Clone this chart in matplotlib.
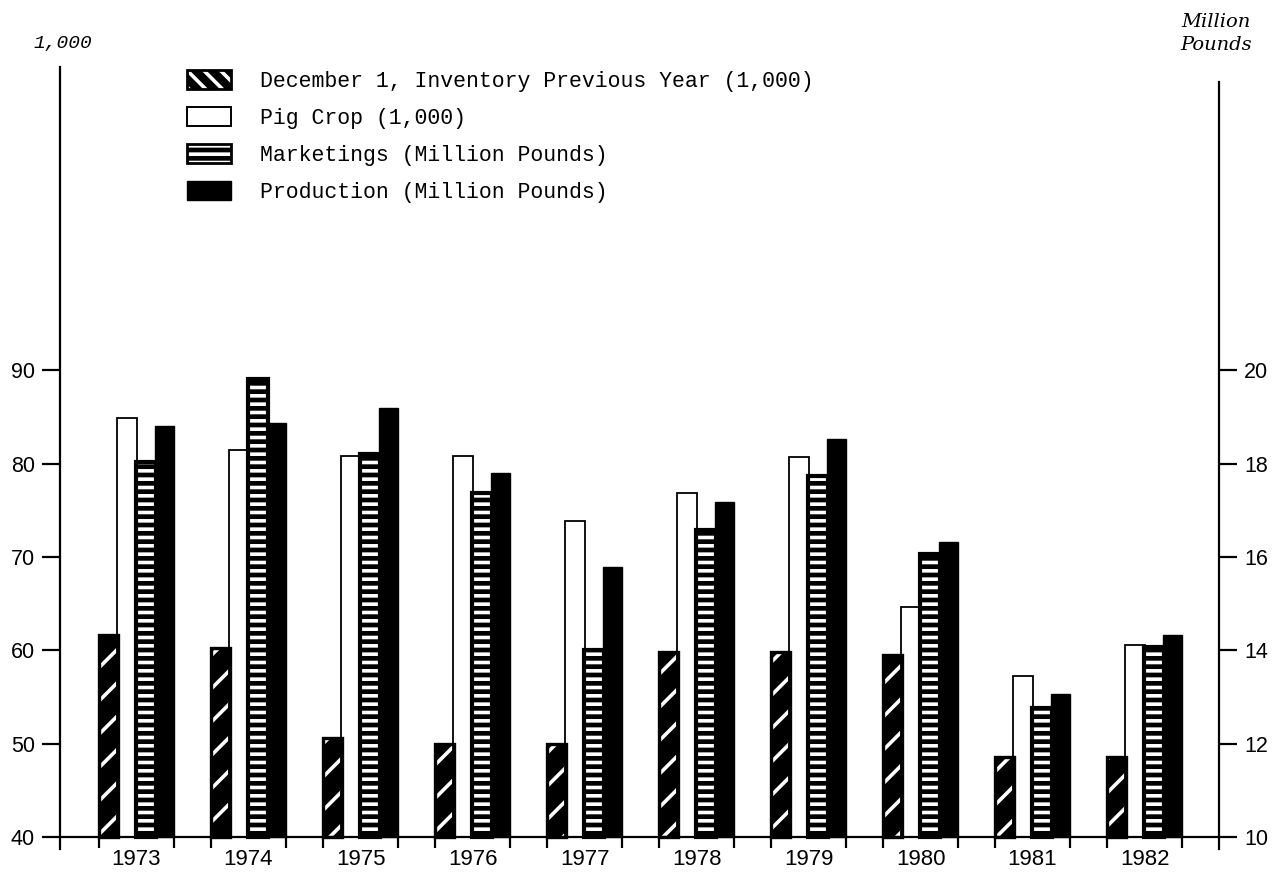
import matplotlib
matplotlib.use("Agg")
import matplotlib.pyplot as plt
from matplotlib.patches import Patch
from matplotlib.legend_handler import HandlerTuple
import numpy as np

# ---- data -------------------------------------------------------------
years = ["1973", "1974", "1975", "1976", "1977",
         "1978", "1979", "1980", "1981", "1982"]
# thousand head (left scale)
inventory = [61.6, 60.2, 50.6, 50.0, 49.9, 59.8, 59.8, 59.5, 48.6, 48.6]
pig_crop = [84.9, 81.5, 80.8, 80.8, 73.8, 76.9, 80.7, 64.6, 57.2, 60.6]
# million pounds (right scale)
marketings = [18.04, 19.82, 18.20, 17.36, 14.00, 16.58, 17.74, 16.06, 12.76, 14.08]
production = [18.80, 18.86, 19.20, 17.80, 15.78, 17.18, 18.52, 16.32, 13.06, 14.32]

left_ticks = [40, 50, 60, 70, 80, 90]
right_ticks = [10, 12, 14, 16, 18, 20]

legend_labels = [
    "December 1, Inventory Previous Year (1,000)",
    "Pig Crop (1,000)",
    "Marketings (Million Pounds)",
    "Production (Million Pounds)",
]

# ---- styling ----------------------------------------------------------
plt.rcParams["hatch.linewidth"] = 2.6
NUM_FONT = ["Liberation Sans", "DejaVu Sans"]
LEG_FONT = ["Liberation Mono", "DejaVu Sans Mono"]

W, H = 1281, 873
fig = plt.figure(figsize=(W / 100, H / 100), dpi=100)
fig.patch.set_facecolor("white")

ax = fig.add_axes([60 / W, 24 / H, (1219 - 60) / W, (849 - 67) / H])
ax2 = ax.twinx()

Y_LO, Y_HI = 38.7, 122.5
to_right = lambda v: 10 + (v - 40) / 5.0
ax.set_ylim(Y_LO, Y_HI)
ax2.set_ylim(to_right(Y_LO), to_right(Y_HI))
ax.set_xlim(-0.683, 9.665)

x = np.arange(len(years))
step = 0.1675
bw = 0.175

inv = np.array(inventory)
pig = np.array(pig_crop)
mkt = np.array(marketings)
prd = np.array(production)

# inventory: black with white diagonal stripes
ax.bar(x - 1.5 * step, inv - 40, bottom=40, width=bw, facecolor="black",
       edgecolor="white", linewidth=0, hatch="/", zorder=2)
ax.bar(x - 1.5 * step, inv - 40, bottom=40, width=bw, fill=False,
       edgecolor="black", linewidth=2.4, zorder=3)
# pig crop: open bars
ax.bar(x - 0.5 * step, pig - 40, bottom=40, width=bw, facecolor="white",
       edgecolor="black", linewidth=1.3, zorder=2)
# marketings: black with white horizontal dashes
ax2.bar(x + 0.5 * step, mkt - 10, bottom=10, width=bw, facecolor="black",
        edgecolor="white", linewidth=0, hatch="--", zorder=2)
ax2.bar(x + 0.5 * step, mkt - 10, bottom=10, width=bw, fill=False,
        edgecolor="black", linewidth=3.0, zorder=3)
# production: solid black
ax2.bar(x + 1.5 * step, prd - 10, bottom=10, width=bw, facecolor="black",
        edgecolor="black", linewidth=1.0, zorder=2)

# ---- axes -------------------------------------------------------------
for s in ("top", "right"):
    ax.spines[s].set_visible(False)
for s in ("top", "left", "bottom"):
    ax2.spines[s].set_visible(False)
ax.spines["bottom"].set_position(("data", 40))
for sp in (ax.spines["left"], ax.spines["bottom"], ax2.spines["right"]):
    sp.set_linewidth(1.6)
ax2.spines["right"].set_bounds(to_right(Y_LO), to_right(120.9))

ax.set_yticks(left_ticks)
ax.set_yticklabels([str(t) for t in left_ticks], family=NUM_FONT, fontsize=15.5)
ax2.set_yticks(right_ticks)
ax2.set_yticklabels([str(t) for t in right_ticks], family=NUM_FONT, fontsize=15.5)
ax.tick_params(axis="y", direction="out", length=13, width=1.6, pad=5)
ax2.tick_params(axis="y", direction="out", length=13, width=1.6, pad=5)

ax.set_xticks(x)
ax.set_xticklabels(years, family=NUM_FONT, fontsize=16)
ax.tick_params(axis="x", which="major", length=0, pad=9)
half = 1.5 * step + bw / 2
edges = np.concatenate([x - half, x + half])
ax.set_xticks(edges, minor=True)
ax.tick_params(axis="x", which="minor", direction="out", length=8, width=1.6)

# ---- titles of the scales ---------------------------------------------
fig.text(33 / W, 1 - 48 / H, "1,000", family=LEG_FONT, style="italic",
         fontsize=14, va="baseline", ha="left")
fig.text(1216 / W, 1 - 27 / H, "Million", family=["DejaVu Serif"],
         style="italic", fontsize=14, va="baseline", ha="center")
fig.text(1216 / W, 1 - 50 / H, "Pounds", family=["DejaVu Serif"],
         style="italic", fontsize=14, va="baseline", ha="center")

# ---- legend -----------------------------------------------------------
frame = dict(fill=False, edgecolor="black", linewidth=2.0)
handles = [
    (Patch(facecolor="black", edgecolor="white", linewidth=0, hatch="\\\\"),
     Patch(**frame)),
    Patch(facecolor="white", edgecolor="black", linewidth=1.4),
    (Patch(facecolor="black", edgecolor="white", linewidth=0, hatch="--"),
     Patch(**frame)),
    Patch(facecolor="black", edgecolor="black", linewidth=1.0),
]
fig.legend(handles, legend_labels, loc="upper left",
           bbox_to_anchor=(187 / W, 1 - 70 / H), frameon=False,
           borderaxespad=0, borderpad=0, handlelength=2.05,
           handleheight=1.0, handletextpad=1.35, labelspacing=0.7,
           handler_map={tuple: HandlerTuple(ndivide=1, pad=0)},
           prop={"family": LEG_FONT, "size": 15.5})

fig.savefig("out.png", dpi=100, facecolor="white")
